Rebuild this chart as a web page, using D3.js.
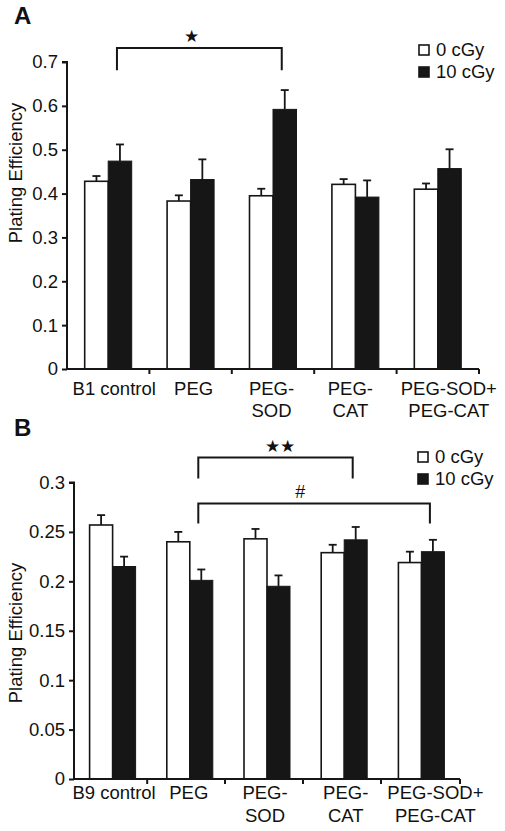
<!DOCTYPE html>
<html><head><meta charset="utf-8">
<script src="https://cdn.jsdelivr.net/npm/d3@7"></script>
<style>
html,body{margin:0;padding:0;background:#fff;}
text{font-family:"Liberation Sans",Arial,Helvetica,sans-serif;fill:#111;}
</style></head>
<body>
<svg id="chart" width="505" height="831"></svg>
<script>
// ---------- data ----------
const seriesNames = ["0 cGy", "10 cGy"];

const catsA = [["B1 control"], ["PEG"], ["PEG-", "SOD"], ["PEG-", "CAT"], ["PEG-SOD+", "PEG-CAT"]];
const a0Mean = [0.428, 0.383, 0.395, 0.421, 0.410];
const a0Err  = [0.012, 0.013, 0.016, 0.012, 0.013];
const a10Mean = [0.474, 0.432, 0.592, 0.392, 0.457];
const a10Err  = [0.038, 0.046, 0.044, 0.038, 0.044];
const ticksA = [0, 0.1, 0.2, 0.3, 0.4, 0.5, 0.6, 0.7];
const tickLabelsA = ["0", "0.1", "0.2", "0.3", "0.4", "0.5", "0.6", "0.7"];

const catsB = [["B9 control"], ["PEG"], ["PEG-", "SOD"], ["PEG-", "CAT"], ["PEG-SOD+", "PEG-CAT"]];
const b0Mean = [0.257, 0.240, 0.243, 0.229, 0.219];
const b0Err  = [0.010, 0.010, 0.010, 0.008, 0.011];
const b10Mean = [0.215, 0.201, 0.195, 0.242, 0.230];
const b10Err  = [0.010, 0.011, 0.011, 0.013, 0.012];
const ticksB = [0, 0.05, 0.1, 0.15, 0.2, 0.25, 0.3];
const tickLabelsB = ["0", "0.05", "0.1", "0.15", "0.2", "0.25", "0.3"];

// ---------- drawing ----------
const svg = d3.select("#chart");
svg.append("rect").attr("width", 505).attr("height", 831).attr("fill", "#fff");
const BLACK = "#161616";

function panel(cfg) {
  const g = svg.append("g");
  const keys = cfg.cats.map((c, i) => c.join(" "));
  const x = d3.scaleBand().domain(keys).range([cfg.x0, cfg.x1]).padding(0);
  const y = d3.scaleLinear().domain([0, cfg.yMax]).range([cfg.y0, cfg.yTop]);
  const bw = cfg.barW;

  // bars
  keys.forEach((k, i) => {
    const c = x(k) + x.bandwidth() / 2;
    g.append("rect").attr("x", c - bw).attr("y", y(cfg.m0[i]))
      .attr("width", bw).attr("height", y(0) - y(cfg.m0[i]))
      .attr("fill", "#fff").attr("stroke", BLACK).attr("stroke-width", 1.6);
    g.append("rect").attr("x", c).attr("y", y(cfg.m10[i]))
      .attr("width", bw).attr("height", y(0) - y(cfg.m10[i]))
      .attr("fill", BLACK).attr("stroke", BLACK).attr("stroke-width", 1);
    [[c - bw / 2, cfg.m0[i], cfg.e0[i]], [c + bw / 2, cfg.m10[i], cfg.e10[i]]].forEach(([cx, m, e]) => {
      g.append("line").attr("x1", cx).attr("x2", cx).attr("y1", y(m)).attr("y2", y(m + e))
        .attr("stroke", BLACK).attr("stroke-width", 1.8);
      g.append("line").attr("x1", cx - 4).attr("x2", cx + 4).attr("y1", y(m + e)).attr("y2", y(m + e))
        .attr("stroke", BLACK).attr("stroke-width", 1.8);
    });
  });

  // y axis
  const yAxis = d3.axisLeft(y).tickValues(cfg.ticks).tickSize(5).tickPadding(4)
    .tickFormat((d, i) => cfg.tickLabels[i]);
  const ya = g.append("g").attr("transform", `translate(${cfg.x0},0)`).call(yAxis);
  ya.select(".domain").attr("stroke", BLACK).attr("stroke-width", 2)
    .attr("d", `M-5,${cfg.yTop}H0V${cfg.y0}`);
  ya.selectAll(".tick line").attr("stroke", BLACK).attr("stroke-width", 2);
  ya.selectAll(".tick text").attr("font-size", 18.5).attr("fill", "#111")
    .attr("font-family", "Liberation Sans, Arial, sans-serif");

  // x axis
  g.append("line").attr("x1", cfg.x0).attr("x2", cfg.x1).attr("y1", cfg.y0).attr("y2", cfg.y0)
    .attr("stroke", BLACK).attr("stroke-width", 2);
  keys.forEach((k, i) => {
    const tx = x(k) + x.bandwidth() - cfg.tickShift[i];
    g.append("line").attr("x1", tx).attr("x2", tx).attr("y1", cfg.y0).attr("y2", cfg.y0 + 5)
      .attr("stroke", BLACK).attr("stroke-width", 2);
    cfg.cats[i].forEach((line, j) => {
      g.append("text").attr("x", x(k) + x.bandwidth() / 2 + cfg.labelNudge[i])
        .attr("y", cfg.labelY + j * cfg.lineH).attr("text-anchor", "middle")
        .attr("font-size", 18.5).text(line);
    });
  });

  // y title
  g.append("text").attr("transform", `translate(${cfg.titleX},${cfg.titleY}) rotate(-90)`)
    .attr("text-anchor", "middle").attr("font-size", 18.5).text("Plating Efficiency");

  // panel letter
  g.append("text").attr("x", 14).attr("y", cfg.letterY).attr("font-size", 24)
    .attr("font-weight", "bold").text(cfg.letter);

  // legend
  seriesNames.forEach((s, i) => {
    const ly = cfg.legY + i * 22;
    g.append("rect").attr("x", cfg.legX).attr("y", ly - 11).attr("width", 10).attr("height", 10)
      .attr("fill", i === 0 ? "#fff" : BLACK).attr("stroke", BLACK).attr("stroke-width", 1.6);
    g.append("text").attr("x", cfg.legX + 17).attr("y", ly).attr("font-size", 18.5).text(s);
  });

  // significance brackets
  cfg.brackets.forEach(b => {
    const xa = x(keys[b.from]) + x.bandwidth() / 2 + bw / 2 - 3;
    const xb = x(keys[b.to]) + x.bandwidth() / 2 + bw / 2 - 3;
    const yt = y(b.top), yb = y(b.bottom);
    g.append("path").attr("d", `M${xa},${yb}V${yt}H${xb}V${yb}`)
      .attr("fill", "none").attr("stroke", BLACK).attr("stroke-width", 2);
    g.append("text").attr("x", xa + (xb - xa) * b.pos).attr("y", yt - b.gap)
      .attr("text-anchor", "middle").attr("font-size", b.size)
      .attr("font-family", b.font).text(b.label);
  });
}

panel({
  cats: catsA, m0: a0Mean, e0: a0Err, m10: a10Mean, e10: a10Err,
  ticks: ticksA, tickLabels: tickLabelsA, yMax: 0.7,
  x0: 67, x1: 479, y0: 369, yTop: 62, barW: 23.5,
  tickShift: [0, 0, 0, 0, 0], labelNudge: [6, 3, -1.5, -5, 11],
  labelY: 395, lineH: 22,
  titleX: 22, titleY: 173, letter: "A", letterY: 24,
  legX: 419, legY: 56,
  brackets: [{from: 0, to: 2, top: 0.732, bottom: 0.681, label: "★", pos: 0.45, gap: 6, size: 17, font: "DejaVu Sans"}]
});

panel({
  cats: catsB, m0: b0Mean, e0: b0Err, m10: b10Mean, e10: b10Err,
  ticks: ticksB, tickLabels: tickLabelsB, yMax: 0.3,
  x0: 74, x1: 460, y0: 779, yTop: 482.5, barW: 23,
  tickShift: [4, 3.4, 2.6, 1.8, 0], labelNudge: [1.5, -1, -2, 1.5, 14],
  labelY: 799, lineH: 22.5,
  titleX: 22, titleY: 633, letter: "B", letterY: 436,
  legX: 418, legY: 463,
  brackets: [
    {from: 1, to: 3, top: 0.3253, bottom: 0.304, label: "★★", pos: 0.53, gap: 5, size: 17, font: "DejaVu Sans"},
    {from: 1, to: 4, top: 0.2787, bottom: 0.2584, label: "#", pos: 0.44, gap: 6, size: 18, font: "Liberation Sans"}
  ]
});
</script>
</body></html>
